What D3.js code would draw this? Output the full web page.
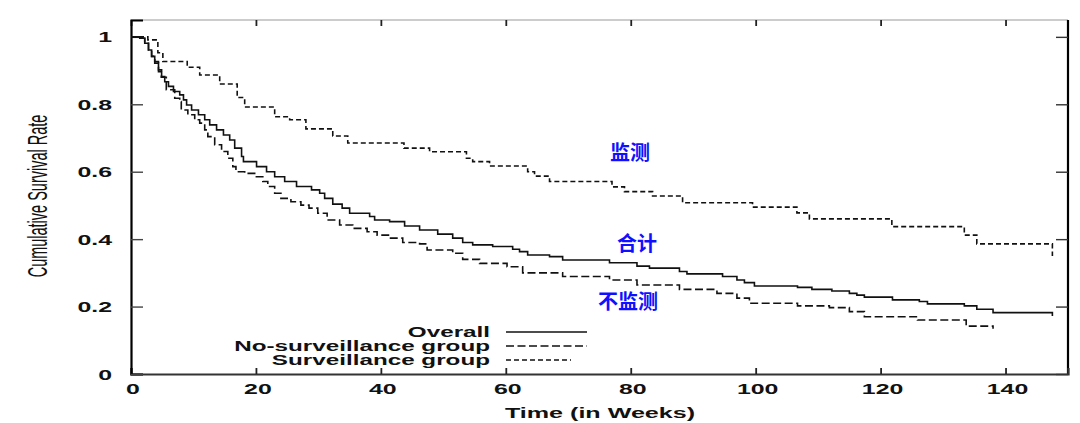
<!DOCTYPE html>
<html>
<head>
<meta charset="utf-8">
<script src="https://cdn.jsdelivr.net/npm/d3@7"></script>
<style>
  html, body { margin: 0; padding: 0; background: #fff; }
  svg { display: block; }
  text { font-family: "Liberation Sans", Arial, Helvetica, sans-serif; }
</style>
</head>
<body>
<svg id="chart" width="1080" height="423"></svg>
<script>
// ---------------- data ----------------
const xTicks = [0, 20, 40, 60, 80, 100, 120, 140];
const yTicks = [0, 0.2, 0.4, 0.6, 0.8, 1];
const yTickLabels = ["0", "0.2", "0.4", "0.6", "0.8", "1"];
const seriesNames = ["Overall", "No-surveillance group", "Surveillance group"];
const xTitle = "Time (in Weeks)";
const yTitle = "Cumulative Survival Rate";
const cnLabels = ["监测", "合计", "不监测"];

// Overall (step points: time, survival after the step)
const overallTime = [0, 1.4, 2.2, 2.8, 3.3, 3.8, 4.4, 4.9, 5.4, 6.0, 6.8, 7.8, 8.4, 8.9, 9.7, 10.8, 11.8, 12.6, 13.7, 14.8, 15.8, 16.6, 17.7, 18.0, 20.1, 21.7, 23.0, 24.6, 26.5, 28.9, 30.2, 31.0, 32.3, 33.8, 35.0, 38.2, 39.0, 41.4, 43.8, 46.2, 49.1, 51.5, 53.1, 54.7, 57.9, 61.1, 62.2, 63.5, 67.0, 69.1, 76.6, 81.0, 83.0, 87.8, 89.0, 94.7, 97.0, 98.2, 99.8, 106.7, 109.0, 112.2, 115.0, 116.2, 117.4, 121.9, 126.2, 127.5, 133.4, 135.4, 138.0, 147.5];
const overallSurv = [1.0, 0.996, 0.981, 0.961, 0.942, 0.927, 0.902, 0.882, 0.867, 0.853, 0.838, 0.828, 0.813, 0.798, 0.783, 0.769, 0.754, 0.739, 0.724, 0.709, 0.694, 0.67, 0.645, 0.63, 0.615, 0.6, 0.585, 0.571, 0.556, 0.546, 0.536, 0.521, 0.504, 0.492, 0.477, 0.467, 0.457, 0.452, 0.439, 0.427, 0.415, 0.403, 0.39, 0.383, 0.378, 0.37, 0.363, 0.353, 0.348, 0.338, 0.33, 0.32, 0.314, 0.304, 0.297, 0.289, 0.279, 0.271, 0.261, 0.257, 0.251, 0.246, 0.239, 0.234, 0.228, 0.22, 0.215, 0.208, 0.202, 0.192, 0.182, 0.172];

// No-surveillance group
const noSurvTime = [0, 1.4, 2.2, 2.8, 3.3, 3.8, 4.4, 4.85, 5.65, 7.0, 7.8, 8.05, 9.1, 10.2, 11.0, 11.8, 12.3, 13.4, 14.5, 15.5, 16.3, 16.8, 18.2, 19.8, 21.1, 21.9, 23.0, 24.0, 25.6, 27.2, 28.5, 29.9, 31.4, 33.4, 35.5, 37.8, 39.4, 41.4, 43.5, 46.2, 47.4, 51.5, 53.1, 55.8, 60.2, 62.7, 69.1, 76.6, 81.0, 87.8, 93.8, 97.0, 99.0, 106.7, 111.8, 115.0, 117.4, 125.9, 133.7, 138.0];
const noSurvSurv = [1.0, 0.996, 0.981, 0.961, 0.942, 0.922, 0.897, 0.88, 0.843, 0.818, 0.808, 0.783, 0.769, 0.754, 0.744, 0.724, 0.704, 0.68, 0.66, 0.64, 0.615, 0.6, 0.595, 0.585, 0.571, 0.556, 0.536, 0.521, 0.511, 0.501, 0.492, 0.477, 0.457, 0.442, 0.432, 0.422, 0.412, 0.403, 0.39, 0.386, 0.368, 0.358, 0.34, 0.328, 0.318, 0.3, 0.289, 0.279, 0.264, 0.251, 0.239, 0.225, 0.21, 0.202, 0.197, 0.185, 0.17, 0.16, 0.142, 0.134];

// Surveillance group
const survTime = [0, 2.7, 4.3, 5.1, 9.0, 11.0, 14.2, 17.0, 18.2, 23.0, 25.4, 28.0, 32.3, 34.7, 43.7, 47.8, 53.7, 54.7, 57.4, 63.5, 64.6, 67.0, 77.0, 79.0, 83.5, 88.3, 99.5, 106.6, 108.6, 121.8, 133.4, 135.4, 147.5];
const survSurv = [1.0, 0.991, 0.953, 0.927, 0.91, 0.887, 0.86, 0.82, 0.792, 0.763, 0.754, 0.727, 0.706, 0.685, 0.67, 0.659, 0.64, 0.63, 0.617, 0.6, 0.587, 0.571, 0.555, 0.541, 0.528, 0.508, 0.495, 0.478, 0.46, 0.437, 0.412, 0.386, 0.35];

// ---------------- drawing ----------------
const svg = d3.select("#chart");
const mLeft = 131, mRight = 1068, mTop = 20, mBottom = 374;

const x = d3.scaleLinear().domain([0, 150]).range([mLeft, mRight]);
const y = d3.scaleLinear().domain([0, 1.05]).range([mBottom, mTop]);

const SX = 1.66; // horizontal stretch of the original image's text
const tickFont = 15;

// frame
svg.append("line").attr("x1", mLeft).attr("x2", mRight).attr("y1", mTop).attr("y2", mTop)
  .attr("stroke", "#9a9a9a").attr("stroke-width", 1.2);
svg.append("line").attr("x1", mRight).attr("x2", mRight).attr("y1", mTop).attr("y2", mBottom + 1)
  .attr("stroke", "#000").attr("stroke-width", 2.2);

// axes (ticks only, labels drawn separately)
const axB = d3.axisBottom(x).tickValues(xTicks).tickSize(-6).tickFormat("");
const axT = d3.axisTop(x).tickValues(xTicks).tickSize(-6).tickFormat("");
const axL = d3.axisLeft(y).tickValues(yTicks).tickSize(-12).tickFormat("");
const axR = d3.axisRight(y).tickValues(yTicks).tickSize(-12).tickFormat("");

svg.append("g").attr("transform", `translate(0,${mTop})`).call(axT).call(g => {
  g.select(".domain").remove();
  g.selectAll(".tick line").attr("stroke", "#222").attr("stroke-width", 1.8);
});
svg.append("g").attr("transform", `translate(${mRight},0)`).call(axR).call(g => {
  g.select(".domain").remove();
  g.selectAll(".tick line").attr("stroke", "#333").attr("stroke-width", 1.4);
});
svg.append("g").attr("transform", `translate(0,${mBottom})`).call(axB).call(g => {
  g.select(".domain").attr("stroke", "#333").attr("stroke-width", 2.2).attr("fill", "none");
  g.selectAll(".tick line").attr("stroke", "#222").attr("stroke-width", 1.8);
});
svg.append("g").attr("transform", `translate(${mLeft},0)`).call(axL).call(g => {
  g.select(".domain").attr("stroke", "#000").attr("stroke-width", 2.2).attr("fill", "none");
  g.selectAll(".tick line").attr("stroke", "#444").attr("stroke-width", 1.4);
});

// tick labels
svg.append("g").selectAll("text").data(xTicks).join("text")
  .attr("transform", d => `translate(${x(d) + 2},394) scale(${SX},1)`)
  .attr("text-anchor", "middle").attr("font-size", tickFont).attr("font-weight", "bold")
  .attr("fill", "#111").text(d => d);

svg.append("g").selectAll("text").data(yTicks).join("text")
  .attr("transform", d => `translate(112,${y(d) + 5.5}) scale(${SX},1)`)
  .attr("text-anchor", "end").attr("font-size", tickFont).attr("font-weight", "bold")
  .attr("fill", "#111").text((d, i) => yTickLabels[i]);

// axis titles
svg.append("text")
  .attr("transform", `translate(600,418) scale(1.62,1)`)
  .attr("text-anchor", "middle").attr("font-size", 15.5).attr("font-weight", "bold")
  .attr("fill", "#111").text(xTitle);

svg.append("text")
  .attr("transform", `translate(47,196) scale(1.9,1) rotate(-90)`)
  .attr("text-anchor", "middle").attr("font-size", 14.5)
  .attr("fill", "#111").text(yTitle);

// curves
const series = [
  { name: seriesNames[0], t: overallTime, s: overallSurv, dash: null },
  { name: seriesNames[1], t: noSurvTime, s: noSurvSurv, dash: "8,3.5" },
  { name: seriesNames[2], t: survTime, s: survSurv, dash: "5,3" }
];
const line = d3.line().x(d => x(d[0])).y(d => y(d[1])).curve(d3.curveStepAfter);

series.forEach(sr => {
  const pts = sr.t.map((t, i) => [t, sr.s[i]]);
  svg.append("path").datum(pts)
    .attr("d", line).attr("fill", "none")
    .attr("stroke", "#111").attr("stroke-width", 1.6)
    .attr("stroke-dasharray", sr.dash);
});

// legend
const legY = [337, 351, 365];
const legLen = [81, 81, 65];
series.forEach((sr, i) => {
  svg.append("text")
    .attr("transform", `translate(490,${legY[i]}) scale(${SX},1)`)
    .attr("text-anchor", "end").attr("font-size", 14.6).attr("font-weight", "bold")
    .attr("fill", "#111").text(sr.name);
  svg.append("line")
    .attr("x1", 506).attr("x2", 506 + legLen[i])
    .attr("y1", legY[i] - 5).attr("y2", legY[i] - 5)
    .attr("stroke", "#111").attr("stroke-width", 1.5)
    .attr("stroke-dasharray", sr.dash);
});

// Chinese annotations
const cnPos = [[630, 159.5], [637, 250.5], [628, 309]];
svg.append("g").selectAll("text").data(cnLabels).join("text")
  .attr("x", (d, i) => cnPos[i][0]).attr("y", (d, i) => cnPos[i][1])
  .attr("text-anchor", "middle")
  .style("font-family", "'Noto Sans CJK SC', sans-serif")
  .attr("font-size", 20).attr("font-weight", "bold")
  .attr("fill", "#1010ff").text(d => d);
</script>
</body>
</html>
